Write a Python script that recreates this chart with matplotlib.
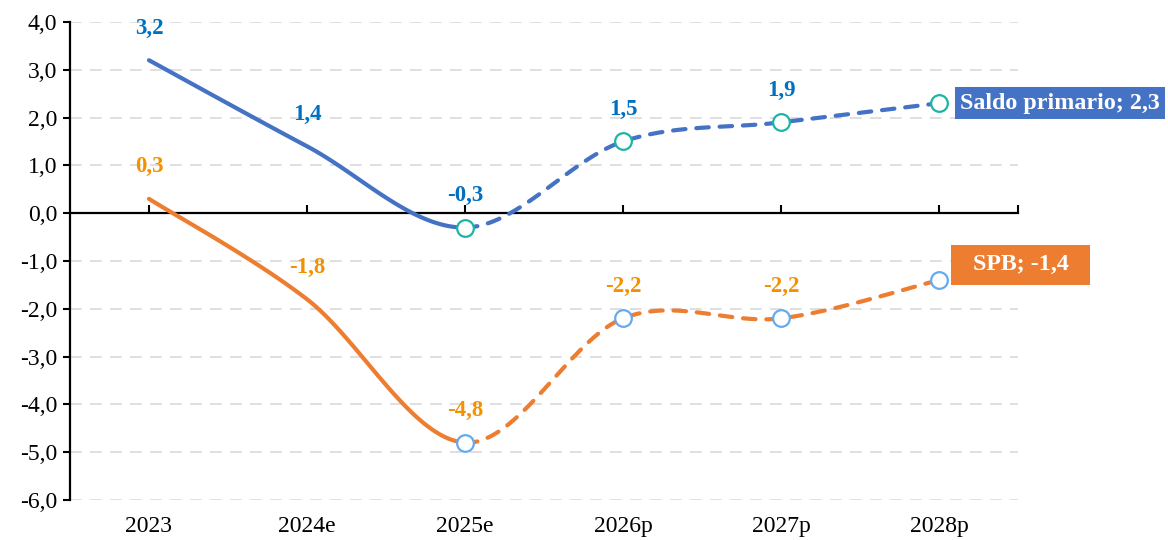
"""Saldo primario vs SPB chart."""

import numpy as np
import matplotlib

matplotlib.use("Agg")
import matplotlib.pyplot as plt

categories = ["2023", "2024e", "2025e", "2026p", "2027p", "2028p"]
saldo_primario = [3.2, 1.4, -0.3, 1.5, 1.9, 2.3]
spb = [0.3, -1.8, -4.8, -2.2, -2.2, -1.4]
first_projection = 2  # index where the dashed part starts

BLUE = "#4472C4"
ORANGE = "#ED7D31"
BLUE_TXT = "#0070C0"
ORANGE_TXT = "#F39200"

plt.rcParams["font.family"] = ["Liberation Serif", "DejaVu Serif"]


def smooth(xs, ys, n=40):
    """Excel-like smoothed line (Bezier through the points)."""
    p = np.column_stack([xs, ys]).astype(float)
    ext = np.vstack([p[0], p, p[-1]])
    out = []
    t = np.linspace(0, 1, n)[:, None]
    for i in range(len(p) - 1):
        p0, p1 = ext[i + 1], ext[i + 2]
        c1 = p0 + (ext[i + 2] - ext[i]) / 6
        c2 = p1 - (ext[i + 3] - ext[i + 1]) / 6
        seg = ((1 - t) ** 3) * p0 + 3 * ((1 - t) ** 2) * t * c1 \
            + 3 * (1 - t) * t ** 2 * c2 + t ** 3 * p1
        out.append(seg)
    return out


fig = plt.figure(figsize=(11.68, 5.4), dpi=100)
ax = fig.add_axes([0.0599, 0.0741, 0.8117, 0.8852])
x = np.arange(len(categories))

for vals, color, mk_edge, txt_color in [
    (saldo_primario, BLUE, "#1BB5A5", BLUE_TXT),
    (spb, ORANGE, "#64AAF0", ORANGE_TXT),
]:
    segs = smooth(x, vals)
    solid = np.vstack(segs[:first_projection])
    dashed = np.vstack(segs[first_projection:])
    ax.plot(solid[:, 0], solid[:, 1], color=color, lw=3.0,
            solid_capstyle="round", zorder=3)
    ax.plot(dashed[:, 0], dashed[:, 1], color=color, lw=3.0,
            dashes=(3.0, 2.6), dash_capstyle="round", zorder=3)
    ax.plot(x[first_projection:], vals[first_projection:], "o", ms=12,
            mfc="white", mec=mk_edge, mew=1.6, zorder=4)
    for xi, v in zip(x[:-1], vals[:-1]):
        ax.annotate(f"{v:.1f}".replace(".", ","), (xi, v),
                    xytext=(0, 23), textcoords="offset points",
                    ha="center", va="center", fontsize=16.5,
                    fontweight="bold", color=txt_color)

ax.annotate(f"Saldo primario; {saldo_primario[-1]:.1f}".replace(".", ","),
            (x[-1], saldo_primario[-1]), xytext=(15, 0),
            textcoords="offset points", ha="left", va="center",
            fontsize=17.3, fontweight="bold", color="white",
            bbox=dict(boxstyle="square,pad=0.22", fc=BLUE, ec="none"))
ax.annotate(f"  SPB; {spb[-1]:.1f}  ".replace(".", ","),
            (x[-1], spb[-1]), xytext=(15.5, 11),
            textcoords="offset points", ha="left", va="center",
            fontsize=17.3, fontweight="bold", color="white",
            bbox=dict(boxstyle="square,pad=0.4", fc=ORANGE, ec="none"))

ax.set_xlim(-0.5, len(categories) - 0.5)
ax.set_ylim(-6, 4)
ax.set_yticks(np.arange(-6, 4.1, 1))
ax.set_yticklabels([f"{v:.1f}".replace(".", ",") for v in np.arange(-6, 4.1, 1)],
                   fontsize=17)
ax.tick_params(axis="y", direction="out", length=5, width=1.5, pad=4)
for yv in np.arange(-6, 4.1, 1):
    if yv != 0:
        ax.axhline(yv, color="#D9D9D9", lw=1.2, dashes=(7, 5), zorder=1)

ax.spines["bottom"].set_position(("data", 0))
ax.spines["bottom"].set_linewidth(1.6)
ax.spines["left"].set_linewidth(1.6)
ax.spines["top"].set_visible(False)
ax.spines["right"].set_visible(False)
ax.set_xticks(list(x) + [len(categories) - 0.5])
ax.set_xticklabels([])
ax.tick_params(axis="x", direction="in", length=6, width=1.5)
for xi, lab in zip(x, categories):
    ax.text(xi, -0.055, lab, transform=ax.get_xaxis_transform(),
            ha="center", va="center", fontsize=17)

fig.savefig("out.png", dpi=100)
plt.close(fig)
